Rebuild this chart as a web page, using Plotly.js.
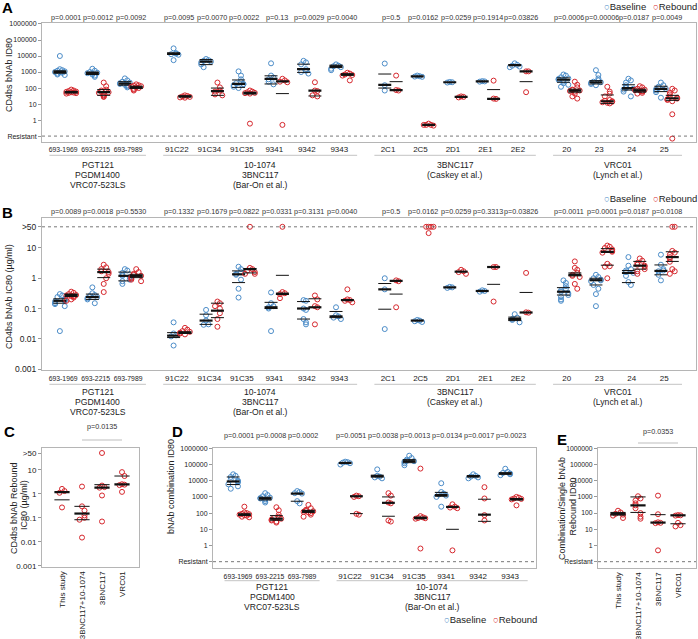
<!DOCTYPE html>
<html><head><meta charset="utf-8">
<script src="https://cdn.plot.ly/plotly-3.0.1.min.js"></script>
<style>html,body{margin:0;padding:0;background:#fff}#chart{width:698px;height:639px}</style>
</head><body><div id="chart"></div>
<script>
// ---------------- DATA ----------------
const catsAB = ['693-1969','693-2215','693-7989','91C22','91C34','91C35','9341','9342','9343','2C1','2C5','2D1','2E1','2E2','20','23','24','25'];
const groupSizesAB = [3,6,5,4];
const groupLabelsAB = [['PGT121','PGDM1400','VRC07-523LS'],['10-1074','3BNC117','(Bar-On et al.)'],['3BNC117','(Caskey et al.)'],['VRC01','(Lynch et al.)']];

const pA = ['p=0.0001','p=0.0012','p=0.0092','p=0.0095','p=0.0070','p=0.0022','p=0.13','p=0.0029','p=0.0040','p=0.5','p=0.0162','p=0.0259','p=0.1914','p=0.03826','p=0.0006','p=0.00006','p=0.0187','p=0.0049'];
const baseA = [
 [10000,1500,1300,1200,1100,1000,950,900,800,700,650],
 [1600,1200,1000,900,850,800,700,600,500],
 [400,300,250,220,200,180,160,150,130,110],
 [30000,15000,14000,13000,12000,5500],
 [6500,5500,5000,4500,4000,3000,2000],
 [1100,600,350,250,200,180,170,150,120,100],
 [3500,600,450,350,250,170],
 [5000,4000,3000,1500,1200,1000,800],
 [3000,2500,2300,2000,1600,1300],
 [3400,150,70],
 [600,550,520,500],
 [240,230,220],
 [270,260,250],
 [3500,2800,2500,2200,2000],
 [700,600,470,400,370,330,300,250,200,160,120],
 [1300,650,400,300,250,230,210,180,150],
 [380,300,220,150,110,100,90,80,60,30],
 [220,150,120,100,90,85,70,55,25]
];
const rebA = [
 [80,70,65,60,58,55,52,50,48,45],
 [220,130,80,70,60,55,50,40,35,30,28],
 [170,150,140,130,120,110,100,90,80,70],
 [35,32,30,28,26,25],
 [220,110,70,60,40,35],
 [70,60,55,50,48,45,0.6],
 [380,300,250,230,0.5],
 [230,70,65,35,30],
 [900,800,700,650,600,300],
 [600,75,70],
 [0.6,0.5,0.5,0.45,0.5],
 [30,28,26],
 [290,22,21],
 [1100,1100,55],
 [250,160,110,80,75,70,65,60,45,30,22],
 [120,60,45,30,18,16,15,14,13,12,11],
 [130,110,90,80,75,70,65,60,50,45],
 [90,70,50,40,30,25,22,20,18,15,2.3,0.07]
];
// [median, lower, upper]
const baseLinesA = [[1000,850,1200],[850,700,1000],[190,150,250],[14000,12500,15500],[4400,2900,6000],[180,110,320],[370,180,580],[1500,950,3100],[2300,1900,2700],[160,100,750],[540,null,null],[230,null,null],[260,null,null],[2700,null,null],[330,230,430],[230,180,290],[100,75,160],[90,60,130]];
const rebLinesA = [[55,50,62],[55,35,80],[110,95,130],[30,28,32],[65,35,100],[48,43,55],[260,45,null],[70,32,null],[700,620,780],[75,null,250],[0.5,null,null],[28,null,null],[21,null,80],[1100,250,null],[70,55,85],[15,11,37],[70,55,85],[23,17,35]];

const pB = ['p=0.0089','p=0.0018','p=0.5530','p=0.1332','p=0.1679','p=0.0822','p=0.0331','p=0.3131','p=0.0040','p=0.5','p=0.0162','p=0.0259','p=0.3313','p=0.03826','p=0.0011','p=0.0001','p=0.0187','p=0.0108'];
const baseB = [
 [0.3,0.27,0.24,0.21,0.19,0.18,0.17,0.15,0.14,0.12,0.018],
 [0.5,0.32,0.28,0.26,0.24,0.22,0.2,0.15],
 [2.0,1.8,1.5,1.3,1.2,1.1,0.9,0.8,0.65],
 [0.035,0.015,0.013,0.012,0.006],
 [0.09,0.06,0.04,0.03,0.029],
 [2.4,2.0,1.6,1.4,1.3,0.9,0.45,0.23],
 [0.34,0.15,0.12,0.11,0.1,0.018],
 [0.19,0.18,0.1,0.09,0.045,0.035,0.03],
 [0.11,0.06,0.055,0.05,0.045],
 [1.0,0.43,0.021],
 [0.042,0.04,0.038,0.036],
 [0.52,0.5,0.48],
 [0.4,0.38,0.36],
 [0.065,0.05,0.045,0.042,0.035],
 [0.85,0.7,0.55,0.45,0.4,0.36,0.32,0.28,0.24,0.2,0.18],
 [1.3,1.1,1.0,0.9,0.85,0.8,0.6,0.45,0.3,0.12],
 [5.0,2.6,2.0,1.8,1.6,1.5,1.2,0.75,0.6],
 [6.0,2.8,2.0,1.8,1.7,1.3,0.85]
];
const rebB = [
 [0.36,0.33,0.3,0.28,0.27,0.26,0.25,0.23,0.2,0.18],
 [2.8,2.3,2.0,1.7,1.6,1.4,1.0,0.65,0.35],
 [2.0,1.6,1.4,1.3,1.2,1.1,1.0,0.9,0.8],
 [0.023,0.02,0.018,0.017,0.016,0.015,0.014],
 [0.17,0.15,0.12,0.1,0.07,0.045,0.025],
 [50,2.2,2.0,1.8,1.6,1.4,1.4],
 [50,0.35,0.32,0.3,0.22],
 [0.27,0.2,0.12,0.11,0.03],
 [0.43,0.2,0.19,0.18,0.16],
 [0.85,0.8,0.11],
 [50,50,50,50,31],
 [1.9,1.7,1.6,1.4],
 [2.35,2.35,0.17],
 [1.5,0.075,0.073],
 [3.6,2.2,1.9,1.5,1.3,1.2,1.1,0.65,0.45],
 [12,11,10,9,8,7.5,7,3,2.5,2.4,1.0],
 [4.5,3.8,3.2,2.8,2.6,2.4,2.0,1.7,1.4],
 [50,50,8,7,6,5,4.5,3.5,2.0,1.7,1.4]
];
const baseLinesB = [[0.18,0.15,0.21],[0.24,0.2,0.3],[1.2,0.82,1.6],[0.0127,0.011,0.016],[0.04,0.03,0.065],[1.35,0.72,1.75],[0.11,0.1,0.16],[0.1,0.045,0.17],[0.055,0.05,0.08],[0.43,0.095,0.67],[0.04,null,null],[0.5,null,null],[0.38,null,null],[0.045,0.04,0.052],[0.36,0.28,0.49],[0.86,0.6,1.0],[1.5,0.72,1.8],[1.75,1.3,2.75]];
const rebLinesB = [[0.28,0.25,0.3],[1.6,1.05,2.0],[1.2,1.05,1.35],[0.016,0.015,0.017],[0.085,0.05,0.15],[2.0,1.5,2.1],[0.31,0.29,1.25],[0.11,null,0.21],[0.19,null,null],[0.82,0.3,null],[null,null,null],[1.65,null,null],[2.35,0.63,null],[0.074,null,0.34],[1.3,1.2,1.5],[7.4,2.7,9.5],[2.6,2.0,3.6],[5.0,3.6,7.5]];

const catsC = ['This study','3BNC117+10-1074','3BNC117','VRC01'];
const valsC = [[1.6,1.3,1.1,0.27],[2.0,0.3,0.2,0.125,0.1,0.083,0.015],[50,2.2,1.9,1.8,0.85,0.07],[8,5.5,2.5,2.4,2.3,1.2]];
const linesC = [[1.17,0.56,null],[0.15,0.083,0.3],[1.8,null,2.4],[2.45,null,5.5]];
const pC = 'p=0.0135';

const catsD = ['693-1969','693-2215','693-7989','91C22','91C34','91C35','9341','9342','9343'];
const groupSizesD = [3,6];
const groupLabelsD = [['PGT121','PGDM1400','VRC07-523LS'],['10-1074','3BNC117','(Bar-On et al.)']];
const pD = ['p=0.0001','p=0.0008','p=0.0002','p=0.0051','p=0.0038','p=0.0013','p=0.0134','p=0.0017','p=0.0023'];
const baseD = [
 [25000,20000,17000,12000,10000,9000,8000,6000,4500,3200],
 [1700,1300,1100,900,850,800,700,550,450],
 [2300,2000,1700,1600,550,400],
 [150000,140000,130000,120000,100000],
 [50000,20000,18000,16000,14000],
 [350000,250000,200000,170000,160000,150000,120000,90000],
 [7000,2000,1600,1400,1200,1000,250],
 [25000,20000,18000,16000,14000],
 [55000,35000,30000,28000,25000,22000]
];
const rebD = [
 [250,110,100,90,85,80,75,70,60,55],
 [230,150,80,60,50,45,40,35,30,26],
 [320,200,160,140,130,120,110,100,80,60],
 [1200,1100,1000,90,80],
 [1700,1200,450,400,35,30],
 [56000,65,55,50,48,45,0.65],
 [350,250,220,200,0.5],
 [4000,800,75,35],
 [1000,900,800,750,700,300]
];
const baseLinesD = [[9000,5800,17000],[800,650,950],[1600,540,null],[125000,null,null],[19000,17000,22000],[160000,130000,200000],[1300,1100,1900],[19000,17000,21000],[28000,25000,31000]];
const rebLinesD = [[80,72,90],[45,36,70],[130,110,150],[1100,93,null],[430,64,1000],[50,45,56],[240,10,null],[80,31,720],[720,650,800]];

const catsE = ['This study','3BNC117+10-1074','3BNC117','VRC01'];
const valsE = [[140,110,90,80,70,50],[1100,800,600,400,300,200,100,60,45],[1200,85,27,25,24,0.5],[75,73,70,25,18,15]];
const linesE = [[90,75,110],[300,110,1000],[26,null,80],[73,22,null]];
const pE = 'p=0.0353';

// ---------------- HELPERS ----------------
const W=698, H=639;
const fx = x => x/W, fy = y => 1 - y/H;
const BLUE='#4b8cc8', RED='#d6282e', FONT='Liberation Sans, Arial, sans-serif';
const traces=[], annotations=[], shapes=[];

function groupPositions(sizes, gap){ const pos=[]; let x=0; sizes.forEach((n,g)=>{ if(g>0) x+=gap; for(let i=0;i<n;i++){pos.push(x); x+=1;} }); return pos; }
function swarmX(vals, c, step, tol){ const pat=[0,1,-1,2,-2]; const placed=[]; return vals.map(v=>{ const lv=Math.log10(v); const k=placed.filter(p=>Math.abs(p-lv)<tol).length; placed.push(lv); return c+pat[k%5]*step; }); }
function addSeries(ax, pos, off, valsArr, linesArr, color, step, tol, hw){
  const px=[],py=[],mx=[],my=[],qx=[],qy=[];
  pos.forEach((p,i)=>{
    const c=p+off, v=valsArr[i];
    if(v && v.length){ px.push(...swarmX(v,c,step,tol)); py.push(...v); }
    const L=linesArr[i];
    if(L){
      if(L[0]!=null){ mx.push(c-hw,c+hw,null); my.push(L[0],L[0],null); }
      [L[1],L[2]].forEach(q=>{ if(q!=null){ qx.push(c-hw,c+hw,null); qy.push(q,q,null);} });
    }
  });
  const xa='x'+(ax===1?'':ax), ya='y'+(ax===1?'':ax);
  traces.push({type:'scatter',mode:'markers',x:px,y:py,xaxis:xa,yaxis:ya,cliponaxis:false,hoverinfo:'skip',showlegend:false,
    marker:{symbol:'circle-open',size:5,color:color,line:{width:1,color:color}}});
  traces.push({type:'scatter',mode:'lines',x:qx,y:qy,xaxis:xa,yaxis:ya,hoverinfo:'skip',showlegend:false,line:{color:'#111',width:1}});
  traces.push({type:'scatter',mode:'lines',x:mx,y:my,xaxis:xa,yaxis:ya,hoverinfo:'skip',showlegend:false,line:{color:'#111',width:2.2}});
}
function txt(x,y,text,size,opts){ annotations.push(Object.assign({x:x,y:y,xref:'paper',yref:'paper',text:text,showarrow:false,font:{family:FONT,size:size,color:'#222'},xanchor:'center',yanchor:'middle'},opts||{})); }
function catLabel(c){ return c.length>5 ? '<span style="font-size:6.8px">'+c+'</span>' : c; }

// ---------------- MARKS ----------------
const posAB = groupPositions(groupSizesAB, 0.5);
const posD = groupPositions(groupSizesD, 0.5);
const stepAB = 0.075, offB=-0.1, offR=0.25, hwAB=0.2, offP=0.08;
addSeries(1,posAB,offB,baseA,baseLinesA,BLUE,stepAB,0.31,hwAB);
addSeries(1,posAB,offR,rebA,rebLinesA,RED,stepAB,0.31,hwAB);
addSeries(2,posAB,offB,baseB,baseLinesB,BLUE,stepAB,0.165,hwAB);
addSeries(2,posAB,offR,rebB,rebLinesB,RED,stepAB,0.165,hwAB);
addSeries(3,catsC.map((c,i)=>i),0,valsC,linesC,RED,0.125,0.21,0.38);
addSeries(4,posD,-0.15,baseD,baseLinesD,BLUE,stepAB,0.31,hwAB);
addSeries(4,posD,0.2,rebD,rebLinesD,RED,stepAB,0.31,hwAB);
addSeries(5,catsE.map((c,i)=>i),0,valsE,linesE,RED,0.125,0.31,0.38);

// p-values
function pvals(list,pos,xa,y,off){ list.forEach((p,i)=>annotations.push({x:pos[i]+off,y:fy(y),xref:xa,yref:'paper',text:p,showarrow:false,font:{family:FONT,size:7.2,color:'#333'},xanchor:'center',yanchor:'middle'})); }
pvals(pA,posAB,'x',17.3,offP); pvals(pB,posAB,'x2',211,offP); pvals(pD,posD,'x4',435.7,0.03);

// group labels + underlines
function groups(sizes,labels,pos,xa,lineY,textY){
  let k=0;
  sizes.forEach((n,g)=>{
    const a=pos[k]-0.42, b=pos[k+n-1]+0.55; k+=n;
    shapes.push({type:'line',xref:xa,yref:'paper',x0:a,x1:b,y0:fy(lineY),y1:fy(lineY),line:{color:'#c4c4c4',width:1}});
    labels[g].forEach((t,j)=>annotations.push({x:(a+b)/2,y:fy(textY+j*10),xref:xa,yref:'paper',text:t,showarrow:false,font:{family:FONT,size:8.6,color:'#222'},xanchor:'center',yanchor:'middle'}));
  });
}
groups(groupSizesAB,groupLabelsAB,posAB,'x',155.3,164.5);
groups(groupSizesAB,groupLabelsAB,posAB,'x2',384.3,392);
groups(groupSizesD,groupLabelsD,posD,'x4',580.7,587);

// dashed reference lines
[['x','y',0.1],['x2','y2',50],['x4','y4',0.1],['x5','y5',0.1]].forEach(r=>shapes.push({type:'line',xref:r[0]+' domain',yref:r[1],x0:0,x1:1,y0:r[2],y1:r[2],line:{color:'#555',width:0.8,dash:'dot'}}));

// C / E comparison bars
shapes.push({type:'line',xref:'x3',yref:'paper',x0:1,x1:3,y0:fy(440),y1:fy(440),line:{color:'#bdbdbd',width:1}});
annotations.push({x:2,y:fy(433),xref:'x3',yref:'paper',text:pC,showarrow:false,font:{family:FONT,size:7.2,color:'#333'}});
shapes.push({type:'line',xref:'x5',yref:'paper',x0:1,x1:3,y0:fy(443),y1:fy(443),line:{color:'#bdbdbd',width:1}});
annotations.push({x:2,y:fy(437.5),xref:'x5',yref:'paper',text:pE,showarrow:false,font:{family:FONT,size:7.2,color:'#333'}});

// legends
function legend(xb,xr,y){
  txt(fx(xb),fy(y),'<span style="color:'+BLUE+'">○</span>Baseline',9.5,{xanchor:'left'});
  txt(fx(xr),fy(y),'<span style="color:'+RED+'">○</span>Rebound',9.5,{xanchor:'left'});
}
legend(602,651,6); legend(602,651,198); legend(442,491,619);

// axis titles
const rot={textangle:-90};
txt(fx(9),fy(75),'CD4bs bNAb ID80',9,rot);
txt(fx(9),fy(297),'CD4bs bNAb IC80 (µg/ml)',9,rot);
txt(fx(14),fy(508),'CD4bs bNAb Rebound',9,rot);
txt(fx(24),fy(505),'IC80 (µg/ml)',9,rot);
txt(fx(171),fy(487),'bNAb combination ID80',9,rot);
txt(fx(562),fy(509),'Combination/Single bNAb',9,rot);
txt(fx(572.5),fy(507),'Rebound ID80',9,rot);

// panel letters
[['A',7,8],['B',7,213],['C',9,431],['D',177,431],['E',562,440]].forEach(l=>txt(fx(l[1]),fy(l[2]),'<b>'+l[0]+'</b>',15,{font:{family:FONT,size:15,color:'#000'}}));

// ---------------- AXES ----------------
const frame={showline:true,mirror:true,linecolor:'#b5b5b5',linewidth:1,zeroline:false,showgrid:false,fixedrange:true};
function xAx(dom,range,tv,tt,size,angle){ return Object.assign({},frame,{domain:dom,range:range,tickvals:tv,ticktext:tt,ticks:'',tickangle:angle||0,tickfont:{family:FONT,size:size,color:'#222'}}); }
function yAx(dom,range,tv,tt,size,anchor){ return Object.assign({},frame,{type:'log',domain:dom,range:range,tickvals:tv,ticktext:tt,ticks:'outside',ticklen:3,tickcolor:'#999',tickfont:{family:FONT,size:size,color:'#222'},anchor:anchor}); }
const idTicks=[0.1,1,10,100,1000,10000,100000,1000000], idText=['Resistant','1','10','100','1000','10000','100000','1000000'];
const icTicks=[0.001,0.01,0.1,1,10,50], icText=['0.001','0.01','0.1','1','10','>50'];

const layout={
  width:W,height:H,margin:{l:0,r:0,t:0,b:0},paper_bgcolor:'#fff',plot_bgcolor:'rgba(0,0,0,0)',showlegend:false,
  font:{family:FONT},
  xaxis: Object.assign(xAx([fx(42),fx(696)],[-0.65,19.48],posAB,catsAB.map(catLabel),8),{anchor:'y'}),
  yaxis: yAx([fy(141.7),fy(22.7)],[-1.35,6.08],idTicks,idText,7,'x'),
  xaxis2: Object.assign(xAx([fx(42),fx(696)],[-0.65,19.48],posAB,catsAB.map(catLabel),8),{anchor:'y2'}),
  yaxis2: yAx([fy(370),fy(217.7)],[-3.03,2.0],icTicks,icText,8.5,'x2'),
  xaxis3: Object.assign(xAx([fx(42),fx(139)],[-1,3.85],[0,1,2,3],catsC,8,-90),{anchor:'y3'}),
  yaxis3: yAx([fy(567),fy(447.7)],[-3.05,1.92],icTicks,icText,8,'x3'),
  xaxis4: Object.assign(xAx([fx(213),fx(536)],[-0.78,9.31],posD,catsD.map(catLabel),8),{anchor:'y4'}),
  yaxis4: yAx([fy(568),fy(448)],[-1.39,6.02],idTicks,idText,7,'x4'),
  xaxis5: Object.assign(xAx([fx(598),fx(696)],[-1,3.9],[0,1,2,3],catsE,8,-90),{anchor:'y5'}),
  yaxis5: yAx([fy(568),fy(448)],[-1.39,6.02],idTicks,idText,6.8,'x5'),
  annotations:annotations, shapes:shapes
};
Plotly.newPlot('chart',traces,layout,{staticPlot:true,displayModeBar:false});
</script></body></html>
